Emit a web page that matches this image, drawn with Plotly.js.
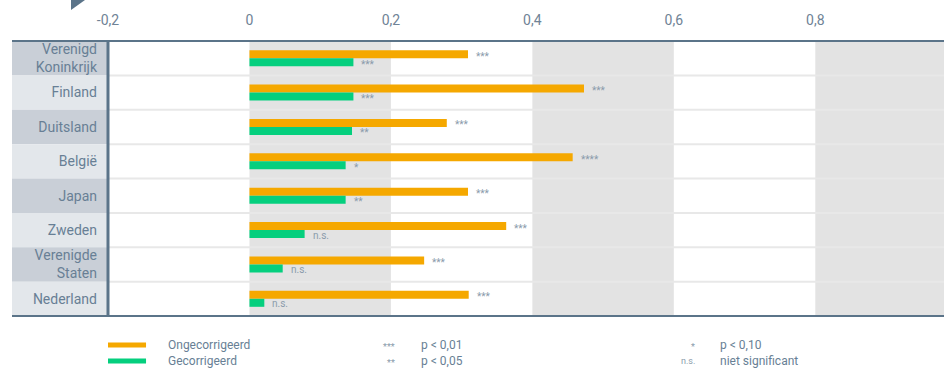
<!DOCTYPE html>
<html><head><meta charset="utf-8">
<script src="https://cdn.plot.ly/plotly-3.0.1.min.js"></script>
<style>html,body{margin:0;padding:0;background:#fff}#chart{width:944px;height:390px}</style>
</head><body><div id="chart"></div>
<script>
const countries = ['Verenigd<br>Koninkrijk','Finland','Duitsland','België','Japan','Zweden','Verenigde<br>Staten','Nederland'];
const uncorrected = [0.309, 0.473, 0.279, 0.457, 0.309, 0.363, 0.247, 0.310];
const corrected   = [0.147, 0.147, 0.145, 0.136, 0.136, 0.078, 0.047, 0.021];
const sigUncorrected = ['***','***','***','****','***','***','***','***'];
const sigCorrected   = ['***','***','**','*','**','n.s.','n.s.','n.s.'];
const tickVals = [-0.2, 0, 0.2, 0.4, 0.6, 0.8];
const tickText = ['-0,2','0','0,2','0,4','0,6','0,8'];
const seriesNames = ['Ongecorrigeerd','Gecorrigeerd'];
const legendSymbols = [['***','p < 0,01'],['**','p < 0,05'],['*','p < 0,10'],['n.s.','niet significant']];

const ORANGE = '#f5a800', GREEN = '#05cf7e', SLATE = '#5b7489', TXT = '#687f95', STAR = '#8a9bab';
const FONT = 'Roboto, "DejaVu Sans", sans-serif';
const XMAX = 0.982;

const traces = [
  {type:'bar', orientation:'h', name:seriesNames[0], y:countries, x:uncorrected, marker:{color:ORANGE}, hoverinfo:'x'},
  {type:'bar', orientation:'h', name:seriesNames[1], y:countries, x:corrected, marker:{color:GREEN}, hoverinfo:'x'}
];

const shapes = [];
for (let i = 0; i < countries.length - 1; i++) {
  shapes.push({type:'line', layer:'below', xref:'x', yref:'y', x0:-0.2, x1:XMAX, y0:i+0.5, y1:i+0.5, line:{color:'#e8e8e8', width:2}});
}
[[0,0.2],[0.4,0.6],[0.8,XMAX]].forEach(b => shapes.push({type:'rect', layer:'below', xref:'x', yref:'paper', x0:b[0], x1:b[1], y0:0, y1:1, fillcolor:'#e3e3e3', line:{width:0}}));
const LX = (12-108)/836;
countries.forEach((c,i) => shapes.push({type:'rect', layer:'below', xref:'paper', yref:'y', x0:LX, x1:0, y0:i-0.5, y1:i+0.5, fillcolor: i%2===0 ? '#c9cfd7' : '#e3e7eb', line:{width:0}}));
shapes.push({type:'line', xref:'paper', yref:'paper', x0:LX, x1:1, y0:1, y1:1, line:{color:SLATE, width:2}});
shapes.push({type:'line', xref:'paper', yref:'paper', x0:LX, x1:1, y0:0, y1:0, line:{color:SLATE, width:2}});
shapes.push({type:'line', xref:'paper', yref:'paper', x0:0, x1:0, y0:0, y1:1, line:{color:SLATE, width:3}});
shapes.push({type:'path', xref:'paper', yref:'paper', path:'M -0.04426 1.149 L -0.0275 1.149 L -0.04426 1.1127 Z', fillcolor:SLATE, line:{width:0}});
shapes.push({type:'line', xref:'paper', yref:'paper', x0:0, x1:0.0455, y0:-0.1055, y1:-0.1055, line:{color:ORANGE, width:5}});
shapes.push({type:'line', xref:'paper', yref:'paper', x0:0, x1:0.0455, y0:-0.1636, y1:-0.1636, line:{color:GREEN, width:5}});

const annotations = [];
countries.forEach((c,i) => {
  annotations.push({x:uncorrected[i], y:c, xref:'x', yref:'y', text:sigUncorrected[i], showarrow:false, xanchor:'left', yanchor:'middle', xshift:6, yshift:2, font:{family:FONT, size:10, color:STAR}});
  const ns = sigCorrected[i] === 'n.s.';
  annotations.push({x:corrected[i], y:c, xref:'x', yref:'y', text:sigCorrected[i], showarrow:false, xanchor:'left', yanchor:'middle', xshift:6, yshift: ns ? -5 : -6, font:{family:FONT, size:10, color:STAR}});
});
annotations.push({x:0.0694, y:-0.1055, xref:'paper', yref:'paper', text:seriesNames[0], showarrow:false, xanchor:'left', yanchor:'middle', font:{family:FONT, size:12, color:TXT}});
annotations.push({x:0.0694, y:-0.1636, xref:'paper', yref:'paper', text:seriesNames[1], showarrow:false, xanchor:'left', yanchor:'middle', font:{family:FONT, size:12, color:TXT}});
const symPos = [[0.3457,0.3720,-0.1055],[0.3457,0.3720,-0.1636],[0.7045,0.7297,-0.1055],[0.7045,0.7297,-0.1636]];
legendSymbols.forEach((s,i) => {
  const star = s[0] !== 'n.s.';
  annotations.push({x:symPos[i][0], y:symPos[i][2], xref:'paper', yref:'paper', text:s[0], showarrow:false, xanchor:'right', yanchor:'middle', yshift: star ? -2 : 0, font:{family:FONT, size:9, color:STAR}});
  annotations.push({x:symPos[i][1], y:symPos[i][2], xref:'paper', yref:'paper', text:s[1], showarrow:false, xanchor:'left', yanchor:'middle', font:{family:FONT, size:12, color:TXT}});
});

const layout = {
  width:944, height:390,
  margin:{l:108, r:0, t:41, b:74, pad:0},
  paper_bgcolor:'#fff', plot_bgcolor:'#fff',
  barmode:'group', bargap:0.535, bargroupgap:0,
  showlegend:false,
  font:{family:FONT, color:TXT},
  xaxis:{side:'top', range:[-0.2, XMAX], tickvals:tickVals, ticktext:tickText, showgrid:false, zeroline:false, showline:false, ticks:'', ticklabelstandoff:12, tickfont:{size:14, color:'#6f8396'}, fixedrange:true},
  yaxis:{type:'category', autorange:'reversed', showgrid:false, zeroline:false, showline:false, ticks:'', ticklabelstandoff:10, tickfont:{size:14, color:TXT}, fixedrange:true},
  shapes:shapes, annotations:annotations
};
Plotly.newPlot('chart', traces, layout, {displayModeBar:false, staticPlot:true});
</script></body></html>
